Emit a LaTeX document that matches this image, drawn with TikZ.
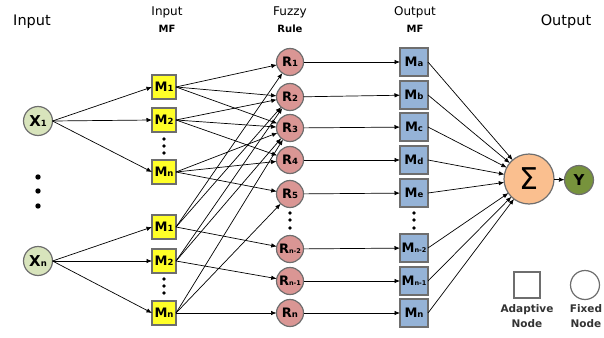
\documentclass[tikz,border=0pt]{standalone}
\usepackage{fontspec}
\setmainfont{DejaVu Sans}
\usetikzlibrary{arrows.meta}
\definecolor{bord}{RGB}{110,110,110}
\definecolor{xgreen}{RGB}{216,228,188}
\definecolor{myyellow}{RGB}{255,255,40}
\definecolor{myred}{RGB}{218,150,148}
\definecolor{myblue}{RGB}{149,179,215}
\definecolor{mypeach}{RGB}{250,191,143}
\definecolor{mygreen}{RGB}{119,147,60}
\newcommand{\mylab}[3][13]{{\fontsize{#1}{#1}\selectfont\bfseries #2}{\fontsize{8.5}{8.5}\selectfont\bfseries #3}}
\newcommand{\mylabs}[3][13]{{\fontsize{#1}{#1}\selectfont\bfseries #2}{\fontsize{6.5}{6.5}\selectfont\bfseries #3}}
\begin{document}
\begin{tikzpicture}[x=1pt,y=-1pt,
  every node/.style={inner sep=0pt, outer sep=0pt},
  xnode/.style={circle, draw=bord, line width=1.2pt, fill=xgreen, minimum size=29pt},
  inmf/.style={rectangle, draw=bord, line width=1.2pt, fill=myyellow, minimum size=24pt},
  rulen/.style={circle, draw=bord, line width=1.2pt, fill=myred, minimum size=27pt},
  outmf/.style={rectangle, draw=bord, line width=1.2pt, fill=myblue, minimum size=28pt},
  conn/.style={draw=black, line width=0.7pt, -{Latex[length=5.5pt,width=4.5pt]}},
  hdr/.style={anchor=base, font=\fontsize{12}{12}\selectfont},
  hdrb/.style={anchor=base, font=\fontsize{10}{10}\selectfont\bfseries},
  big/.style={anchor=base, font=\fontsize{14.5}{14.5}\selectfont},
  leg/.style={anchor=base, font=\fontsize{10.5}{10.5}\selectfont\bfseries, text=black!80},
]
\useasboundingbox (0,0) rectangle (604,337);

% headers
\node[big] (hin) at (32,25.5) {Input};
\node[hdr] (hinmf) at (167,16) {Input};
\node[hdrb] (hinmf2) at (167,33) {MF};
\node[hdr] (hfz) at (290,16) {Fuzzy};
\node[hdrb] (hfz2) at (290,33) {Rule};
\node[hdr] (houtmf) at (415,16) {Output};
\node[hdrb] (houtmf2) at (415,33) {MF};
\node[big] (hout) at (566,25.5) {Output};

% inputs
\node[xnode] (X1) at (38,121) {\mylab[15]{X}{1}};
\node[xnode] (Xn) at (38,261) {\mylab[15]{X}{n}};
\foreach \yy in {177,191,206} \fill (38,\yy) circle (2.7pt);

% input MFs
\node[inmf] (tM1) at (164,87) {\mylab{M}{1}};
\node[inmf] (tM2) at (164,120) {\mylab{M}{2}};
\node[inmf] (tMn) at (164,172) {\mylab{M}{n}};
\node[inmf] (bM1) at (164,227) {\mylab{M}{1}};
\node[inmf] (bM2) at (164,261) {\mylab{M}{2}};
\node[inmf] (bMn) at (164,313) {\mylab{M}{n}};
\foreach \yy in {139,146,153,279,286,293} \fill (164,\yy) circle (1.9pt);

% rules
\node[rulen] (R1) at (290,62) {\mylab{R}{1}};
\node[rulen] (R2) at (290,97) {\mylab{R}{2}};
\node[rulen] (R3) at (290,128) {\mylab{R}{3}};
\node[rulen] (R4) at (290,160) {\mylab{R}{4}};
\node[rulen] (R5) at (290,194) {\mylab{R}{5}};
\node[rulen] (Rn2) at (290,249) {\mylabs{R}{n-2}};
\node[rulen] (Rn1) at (290,281) {\mylabs{R}{n-1}};
\node[rulen] (Rn) at (290,313) {\mylab{R}{n}};
\foreach \yy in {213,220,228} \fill (290,\yy) circle (1.9pt);

% output MFs
\node[outmf] (Oa) at (414,62) {\mylab{M}{a}};
\node[outmf] (Ob) at (414,95) {\mylab{M}{b}};
\node[outmf] (Oc) at (414,127) {\mylab{M}{c}};
\node[outmf] (Od) at (414,160) {\mylab{M}{d}};
\node[outmf] (Oe) at (414,193) {\mylab{M}{e}};
\node[outmf] (On2) at (414,248) {\mylabs{M}{n-2}};
\node[outmf] (On1) at (414,281) {\mylabs{M}{n-1}};
\node[outmf] (On) at (414,313) {\mylab{M}{n}};
\foreach \yy in {213,220,228} \fill (414,\yy) circle (1.9pt);

% sum and output
\node[circle, draw=bord, line width=1.2pt, fill=mypeach, minimum size=50pt] (S) at (529,179) {\fontsize{30}{30}\selectfont Σ};
\node[circle, draw=bord, line width=1.2pt, fill=mygreen, minimum size=29pt] (Y) at (579,180) {\fontsize{15}{15}\selectfont\bfseries Y};

% legend
\node[rectangle, draw=bord, line width=1.2pt, fill=white, minimum size=26pt] (LA) at (527,285) {};
\node[circle, draw=bord, line width=1.2pt, fill=white, minimum size=29pt] (LF) at (585,285) {};
\node[leg] (la1) at (527,312) {Adaptive};
\node[leg] (la2) at (527,327) {Node};
\node[leg] (lf1) at (586,312) {Fixed};
\node[leg] (lf2) at (586,327) {Node};

% connections: inputs to MFs
\foreach \m in {tM1,tM2,tMn} \draw[conn] (X1.east) -- (\m.west);
\foreach \m in {bM1,bM2,bMn} \draw[conn] (Xn.east) -- (\m.west);

% MFs to rules
\foreach \r in {R1,R2,R3} \draw[conn] (tM1.east) -- (\r);
\foreach \r in {R2,R3,R4} \draw[conn] (tM2.east) -- (\r);
\foreach \r in {R3,R4,R5} \draw[conn] (tMn.east) -- (\r);
\foreach \r in {R1,R2,Rn2} \draw[conn] (bM1.east) -- (\r);
\foreach \r in {R2,R3,Rn1} \draw[conn] (bM2.east) -- (\r);
\foreach \r in {R3,R5,Rn} \draw[conn] (bMn.east) -- (\r);

% rules to output MFs
\draw[conn] (R1) -- (Oa);
\draw[conn] (R2) -- (Ob);
\draw[conn] (R3) -- (Oc);
\draw[conn] (R4) -- (Od);
\draw[conn] (R5) -- (Oe);
\draw[conn] (Rn2) -- (On2);
\draw[conn] (Rn1) -- (On1);
\draw[conn] (Rn) -- (On);

% output MFs to sum
\foreach \o in {Oa,Ob,Oc,Od,Oe,On2,On1,On} \draw[conn] (\o.east) -- (S);
\draw[conn] (S) -- (Y);
\end{tikzpicture}
\end{document}
